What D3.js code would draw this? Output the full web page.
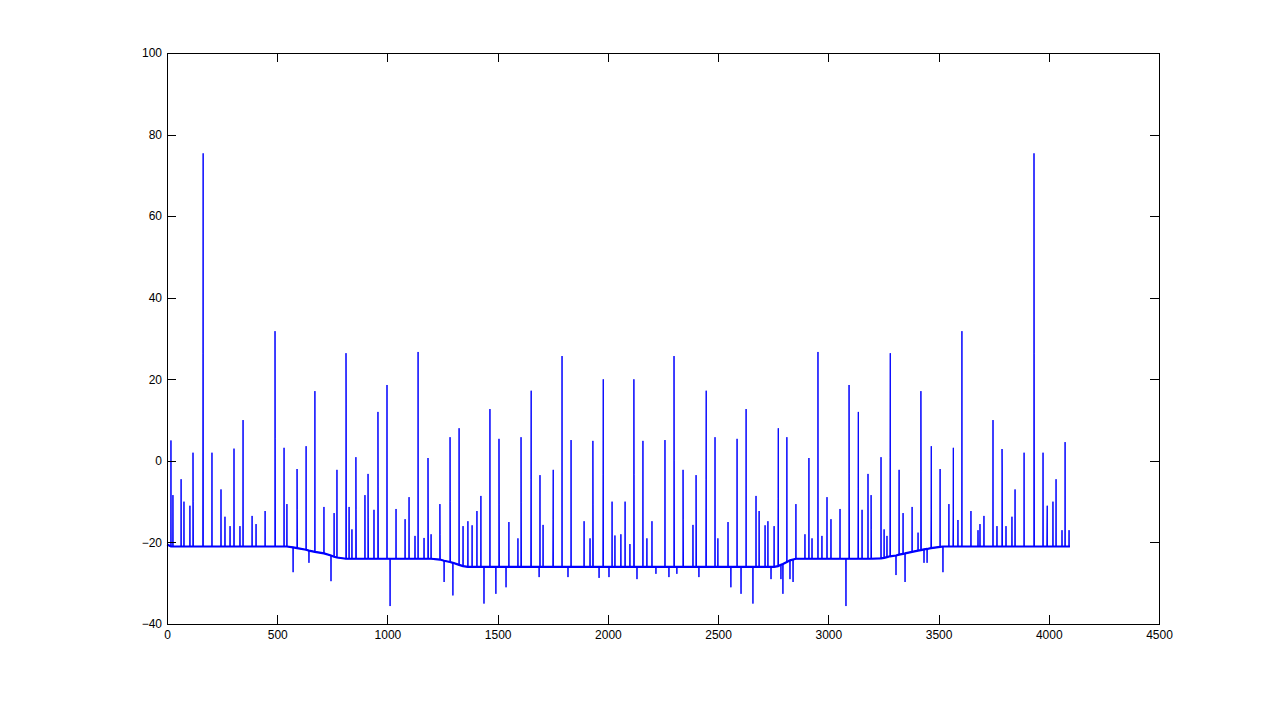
<!DOCTYPE html>
<html>
<head>
<meta charset="utf-8">
<script src="https://cdn.jsdelivr.net/npm/d3@7"></script>
<style>
    body { margin: 0; background: #ffffff; }
    .tickText { font-family: "Liberation Sans", Arial, sans-serif; font-size: 12px; fill: #000; }
</style>
</head>
<body>
<svg id="signal_graph"></svg>
<script>

// Axis ticks
var xTicks = [0, 500, 1000, 1500, 2000, 2500, 3000, 3500, 4000, 4500]
var yTicks = [-40, -20, 0, 20, 40, 60, 80, 100]

// First and last sample of the signal
var signalStart = [1, -20.5]
var signalEnd = [4096, -21]

// Spikes: [sample, baseline, peak, second sample (optional)]
var spikes = [
    [18, -21, 5], [27, -21, -8.4], [64, -21, -4.5], [77, -21, -10], [104, -21, -11],
    [118, -21, 2, -10], [163, -21, 26.4, 75.4], [204, -21, 2], [245, -21, -7], [263, -21, -13.7],
    [286, -21, -16], [304, -21, 3], [331, -21, -16], [345, -21, 10], [386, -21, -13.5],
    [404, -21, -15.5], [445, -21, -12.3], [490, -21, 31.8, 5.4], [531, -21, 3.2], [544, -21, -10.6],
    [572, -21.2, -27.3], [590, -21.4, -2, -12], [631, -21.8, 3.6], [644, -22, -25], [671, -22.3, 17.1],
    [712, -22.7, -11.3], [744, -23.2, -29.5], [758, -23.5, -12.8], [771, -23.7, -2.2], [812, -24, 26.4, 13.7],
    [826, -24, -11.3], [839, -24, -16.8], [857, -24, 0.9, -12], [898, -24, -8.4], [912, -24, -3.2, -14],
    [939, -24, -12], [957, -24, 12, -6.4], [998, -24, 18.6], [1012, -24, -35.6], [1039, -24, -11.8],
    [1080, -24, -14.3], [1098, -24, -8.9], [1125, -24, -18.4], [1139, -24, 26.7], [1166, -24, -18.9],
    [1184, -24, 0.7, -11.8], [1198, -24, -18], [1238, -24.2, -10.6, -18], [1257, -24.5, -29.7], [1284, -24.8, 5.8, -10],
    [1297, -25, -33], [1325, -25.5, 8], [1343, -25.8, -16], [1365, -26, -14.8], [1384, -26, -15.8],
    [1406, -26, -12.3], [1424, -26, -8.6], [1438, -26, -35], [1465, -26, 12.7], [1492, -26, -32.6],
    [1506, -26, 5.4, -10.6], [1538, -26, -31], [1551, -26, -15], [1592, -26, -19], [1606, -26, 5.8, -10.3],
    [1651, -26, -4.5, 17.2], [1688, -26, -28.5], [1692, -26, -3.5], [1706, -26, -15.7], [1751, -26, -14.3, -2.2],
    [1792, -26, 25.7], [1819, -26, -28.5], [1833, -26, 5.1], [1892, -26, -14.8], [1919, -26, -19],
    [1932, -26, 4.9, -10.6], [1960, -26, -28.7], [1978, -26, -3.3, 20], [2005, -26, -28.5], [2019, -26, -10],
    [2032, -26, -18.3], [2059, -26, -18], [2078, -26, -10], [2100, -26, -20.4], [2118, -26, 20, -3.3],
    [2132, -26, -29], [2159, -26, 4.9], [2177, -26, -19], [2200, -26, -14.8], [2218, -26, -27.7],
    [2259, -26, 5.1], [2277, -26, -28.5], [2300, -26, 25.7, 0], [2313, -26, -27.7], [2341, -26, -2.2, -14.3],
    [2386, -26, -15.7], [2400, -26, -3.5, -14.5], [2413, -26, -28.5], [2445, -26, -4.5, 17.2], [2486, -26, 5.8],
    [2499, -26, -19], [2545, -26, -15], [2558, -26, -31], [2586, -26, 5.4], [2604, -26, -32.6],
    [2627, -26, 12.7], [2658, -26, -35], [2672, -26, -8.6], [2686, -26, -12.3], [2713, -26, -15.8],
    [2726, -26, -14.8], [2740, -26, -29], [2754, -26, -16], [2772, -25.8, -9.3, 8], [2785, -25.5, -29],
    [2794, -25.3, -32.6], [2812, -24.8, 5.8], [2826, -24.4, -29], [2840, -24.2, -29.7], [2853, -24, -10.6],
    [2894, -24, -18], [2912, -24, 0.7], [2926, -24, -19], [2953, -24, 26.7], [2971, -24, -18.4],
    [2994, -24, -8.9], [3012, -24, -14.3], [3053, -24, -11.8], [3080, -24, -35.6], [3094, -24, 18.6, -3.2],
    [3135, -24, -6.7, 12], [3153, -24, -12], [3180, -24, -3.2], [3194, -24, -8.4, -16.8], [3239, -23.9, 0.9],
    [3253, -23.8, -16.8], [3266, -23.6, -18.4], [3280, -23.4, 0.9, 26.4], [3307, -23.2, -28], [3321, -23, -2.2],
    [3339, -22.8, -12.8], [3348, -22.7, -29.7], [3380, -22.3, -11.3], [3407, -22, -17.6], [3420, -21.9, 17.1, -2.5],
    [3434, -21.7, -25], [3448, -21.6, -25], [3466, -21.4, -12, 3.6], [3507, -21.1, -2], [3520, -21, -27.3],
    [3547, -21, -10.6], [3566, -21, -12, 3.2], [3588, -21, -14.5], [3606, -21, 31.8], [3647, -21, -12.3],
    [3679, -21, -17], [3688, -21, -15.5], [3706, -21, -13.5], [3747, -21, 10], [3765, -21, -16],
    [3788, -21, 2.9, -2], [3806, -21, -16], [3833, -21, -13.7], [3847, -21, -7], [3888, -21, 2],
    [3933, -21, 75.4, 26.4], [3974, -21, 2], [3992, -21, -15, -11], [4019, -21, -10], [4033, -21, -4.5],
    [4060, -21, -17], [4074, -21, 4.6], [4092, -21, -17]
]


function createGraph() {

    var svgWidth = 1281
    var svgHeight = 702
    var left = 167, right = 1159, top = 53, bottom = 624

    var svg = d3.select("#signal_graph")
        .attr("width", svgWidth)
        .attr("height", svgHeight)

    svg.append("rect")
        .attr("width", svgWidth)
        .attr("height", svgHeight)
        .attr("fill", "#ffffff")

    var xScale = d3.scaleLinear()
        .domain([0, 4500])
        .range([left, right])

    var yScale = d3.scaleLinear()
        .domain([-40, 100])
        .range([bottom, top])

    // build the polyline: baseline, peak(s), baseline for every spike
    var points = [signalStart]
    var basePoints = [signalStart]
    spikes.forEach(function(s) {
        points.push([s[0] - 1, s[1]])
        points.push([s[0], s[2]])
        if (s.length > 3) {
            points.push([s[0] + 1, s[3]])
            points.push([s[0] + 2, s[1]])
        } else {
            points.push([s[0] + 1, s[1]])
        }
        basePoints.push([s[0], s[1]])
    })
    points.push(signalEnd)
    basePoints.push(signalEnd)

    var line = d3.line()
        .x(function(d) { return xScale(d[0]) })
        .y(function(d) { return yScale(d[1]) })

    // noisy baseline band
    svg.append("path")
        .datum(basePoints)
        .attr("fill", "none")
        .attr("stroke", "#0000ff")
        .attr("stroke-width", 2.2)
        .attr("d", line)

    svg.append("path")
        .datum(points)
        .attr("fill", "none")
        .attr("stroke", "#0000ff")
        .attr("stroke-width", 1)
        .attr("d", line)

    // axes, ticks pointing inward like matlab
    var xAxis = svg.append("g")
        .attr("transform", "translate(0," + bottom + ")")
        .call(d3.axisBottom(xScale).tickValues(xTicks).tickSize(-9).tickPadding(6).tickFormat(d3.format("d")))

    var xAxisTop = svg.append("g")
        .attr("transform", "translate(0," + top + ")")
        .call(d3.axisTop(xScale).tickValues(xTicks).tickSize(-9).tickFormat(""))

    var yAxis = svg.append("g")
        .attr("transform", "translate(" + left + ",0)")
        .call(d3.axisLeft(yScale).tickValues(yTicks).tickSize(-9).tickPadding(5).tickFormat(d3.format("d")))

    var yAxisRight = svg.append("g")
        .attr("transform", "translate(" + right + ",0)")
        .call(d3.axisRight(yScale).tickValues(yTicks).tickSize(-9).tickFormat(""))

    svg.selectAll(".domain").remove()
    svg.selectAll(".tick line").attr("stroke", "#000").attr("shape-rendering", "crispEdges")
    svg.selectAll(".tick text").attr("class", "tickText").attr("font-family", null).attr("font-size", null)

    // frame
    svg.append("rect")
        .attr("x", left + 0.5)
        .attr("y", top + 0.5)
        .attr("width", right - left)
        .attr("height", bottom - top)
        .attr("fill", "none")
        .attr("stroke", "#000")
        .attr("shape-rendering", "crispEdges")
}

createGraph()

</script>
</body>
</html>
